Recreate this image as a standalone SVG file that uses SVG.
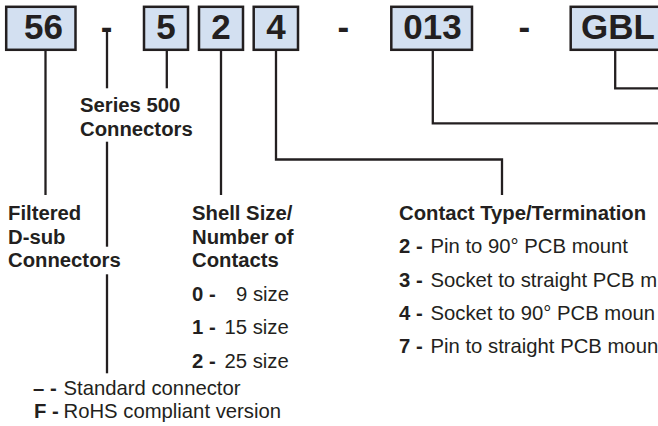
<svg xmlns="http://www.w3.org/2000/svg" width="658" height="426" viewBox="0 0 658 426">
<style>
  .box { fill: #d3e0f1; stroke: #231f20; stroke-width: 2.5; }
  .code { font-family: "Liberation Sans", Arial, Helvetica, sans-serif; font-weight: bold; font-size: 35px; fill: #231f20; }
  .conn { fill: none; stroke: #231f20; stroke-width: 2.3; }
  .lbl { font-family: "Liberation Sans", Arial, Helvetica, sans-serif; font-size: 20.3px; fill: #231f20; }
  .b { font-weight: bold; }
</style>
<rect width="658" height="426" fill="#ffffff"/>

<g id="connectors" class="conn">
  <path d="M45.5 51 V195"/>
  <path d="M107 31 V88.3"/>
  <path d="M107 141.7 V246.7"/>
  <path d="M107 274.3 V373.3"/>
  <path d="M166.8 51 V88.3"/>
  <path d="M221 51 V195"/>
  <path d="M276 51 V159.5 H502 V195"/>
  <path d="M432.8 51 V123.3 H660"/>
  <path d="M615.2 51 V88.3 H660"/>
</g>

<g id="node-56">
  <rect class="box" x="6.2" y="6.8" width="69.3" height="43"/>
  <text class="code" x="43.5" y="38.8" text-anchor="middle">56</text>
</g>
<g id="sep-1">
  <text class="code" x="106.5" y="38.8" text-anchor="middle">-</text>
</g>
<g id="node-5">
  <rect class="box" x="144" y="6.8" width="44" height="43"/>
  <text class="code" x="166" y="38.8" text-anchor="middle">5</text>
</g>
<g id="node-2">
  <rect class="box" x="199" y="6.8" width="44" height="43"/>
  <text class="code" x="221" y="38.8" text-anchor="middle">2</text>
</g>
<g id="node-4">
  <rect class="box" x="253.7" y="6.8" width="44.3" height="43"/>
  <text class="code" x="276" y="38.8" text-anchor="middle">4</text>
</g>
<g id="sep-2">
  <text class="code" x="343.3" y="38.8" text-anchor="middle">-</text>
</g>
<g id="node-013">
  <rect class="box" x="391.3" y="6.8" width="80.7" height="43"/>
  <text class="code" x="432.5" y="38.8" text-anchor="middle">013</text>
</g>
<g id="sep-3">
  <text class="code" x="524.3" y="38.8" text-anchor="middle">-</text>
</g>
<g id="node-GBL">
  <rect class="box" x="570.7" y="6.8" width="100" height="43"/>
  <text class="code" x="581" y="38.8">GBL</text>
</g>

<g id="label-series">
  <text class="lbl b" x="80" y="111.7">Series 500</text>
  <text class="lbl b" x="80" y="135.7">Connectors</text>
</g>

<g id="label-filtered">
  <text class="lbl b" x="8" y="220">Filtered</text>
  <text class="lbl b" x="8" y="243.5">D-sub</text>
  <text class="lbl b" x="8" y="267">Connectors</text>
</g>

<g id="label-shell">
  <text class="lbl b" x="192" y="220">Shell Size/</text>
  <text class="lbl b" x="192" y="243.5">Number of</text>
  <text class="lbl b" x="192" y="267">Contacts</text>
  <text class="lbl" y="300.5"><tspan class="b" x="192">0 -</tspan><tspan x="236">9 size</tspan></text>
  <text class="lbl" y="334"><tspan class="b" x="192">1 -</tspan><tspan x="224.5">15 size</tspan></text>
  <text class="lbl" y="367.5"><tspan class="b" x="192">2 -</tspan><tspan x="224.5">25 size</tspan></text>
</g>

<g id="label-contact">
  <text class="lbl b" x="399" y="219.5">Contact Type/Termination</text>
  <text class="lbl" y="253.3"><tspan class="b" x="399">2 -</tspan><tspan x="430.5">Pin to 90° PCB mount</tspan></text>
  <text class="lbl" y="286.7"><tspan class="b" x="399">3 -</tspan><tspan x="430.5">Socket to straight PCB m</tspan></text>
  <text class="lbl" y="320"><tspan class="b" x="399">4 -</tspan><tspan x="430.5">Socket to 90° PCB moun</tspan></text>
  <text class="lbl" y="353.3"><tspan class="b" x="399">7 -</tspan><tspan x="430.5">Pin to straight PCB moun</tspan></text>
</g>

<g id="label-version">
  <text class="lbl" y="395"><tspan class="b" x="33">– -</tspan><tspan x="63.5">Standard connector</tspan></text>
  <text class="lbl" y="418.3"><tspan class="b" x="34">F -</tspan><tspan x="63.5">RoHS compliant version</tspan></text>
</g>
</svg>
